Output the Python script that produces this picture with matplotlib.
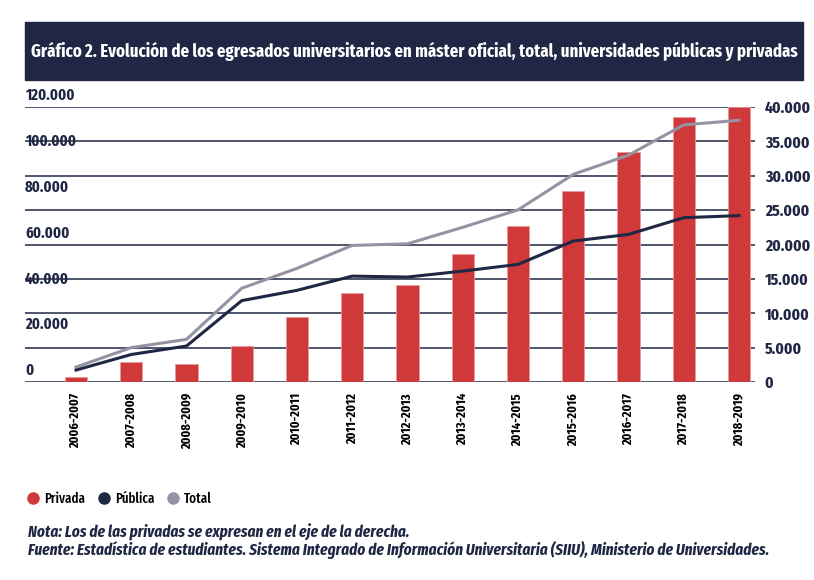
import matplotlib.pyplot as plt
from matplotlib.lines import Line2D
from matplotlib.patches import Rectangle

# Datos
cursos = ['2006-2007', '2007-2008', '2008-2009', '2009-2010', '2010-2011',
          '2011-2012', '2012-2013', '2013-2014', '2014-2015', '2015-2016',
          '2016-2017', '2017-2018', '2018-2019']
privada = [800, 2900, 2600, 5200, 9500, 12900, 14100, 18600, 22700, 27800,
           33500, 38500, 40000]
publica = [5200, 12000, 15700, 35500, 40000, 46200, 45800, 48400, 51300,
           61500, 64400, 71700, 72600]
total = [6500, 15000, 18600, 40900, 49600, 59600, 60300, 67500, 75100,
         90600, 99000, 112200, 114200]

ticks_izq = [0, 20000, 40000, 60000, 80000, 100000, 120000]
ticks_der = [0, 5000, 10000, 15000, 20000, 25000, 30000, 35000, 40000]

ROJO = '#d0393a'
AZUL = '#1f2744'
GRIS = '#9593a3'
FUENTE = ['Fira Sans Extra Condensed', 'DejaVu Sans']

plt.rcParams['font.family'] = FUENTE
plt.rcParams['font.weight'] = 'bold'


def miles(v):
    return f'{v:,}'.replace(',', '.')


fig = plt.figure(figsize=(8.14, 5.8), dpi=100)

# barra del titulo
fig.patches.append(Rectangle((25 / 814, 1 - 80 / 580), 778 / 814, 58 / 580,
                             transform=fig.transFigure, color=AZUL, zorder=0))
fig.text(414 / 814, 1 - 51 / 580,
         'Gráfico 2. Evolución de los egresados universitarios en máster oficial, '
         'total, universidades públicas y privadas',
         color='white', fontsize=13.1, fontweight='bold', ha='center', va='center')

# eje de las lineas (izquierda) y eje de las barras (derecha)
ax = fig.add_axes([25 / 814, 1 - 382 / 580, 730 / 814, 275 / 580])
ax2 = ax.twinx()
ax.set_zorder(ax2.get_zorder() + 1)
ax.patch.set_visible(False)
x = list(range(len(cursos)))

ax2.bar(x, privada, width=0.4, color=ROJO, edgecolor='#e79a9c', linewidth=0.6, zorder=2)
ax2.set_ylim(0, 40000)
ax2.set_yticks(ticks_der)
ax2.set_yticklabels([miles(v) for v in ticks_der])
ax2.tick_params(axis='y', length=0, pad=7, labelsize=12.2, labelcolor=AZUL)
for v in ticks_der:
    ax2.axhline(v, color=AZUL, linewidth=1.1, zorder=1)

ax.plot(x, total, color=GRIS, linewidth=2.2, zorder=3)
ax.plot(x, publica, color=AZUL, linewidth=2.2, zorder=4)
ax.set_ylim(0, 120000)
ax.set_xlim(-0.923, 12.29)
ax.set_yticks([])
ax.set_xticks(x)
ax.set_xticklabels(cursos, rotation=90, fontsize=9.6, color='black')
ax.tick_params(axis='x', length=0, pad=8)
for v in ticks_izq:
    ax.annotate(miles(v), xy=(0, v), xycoords=ax.get_yaxis_transform(),
                xytext=(0, 2.5), textcoords='offset points',
                ha='left', va='bottom', fontsize=11.5, color=AZUL)

for a in (ax, ax2):
    for s in a.spines.values():
        s.set_visible(False)

# leyenda
handles = [Line2D([], [], marker='o', linestyle='none', color=c, markersize=8)
           for c in (ROJO, AZUL, GRIS)]
fig.legend(handles, ['Privada', 'Pública', 'Total'], loc='center left',
           bbox_to_anchor=(27 / 814, 1 - 499 / 580), ncol=3, frameon=False,
           handlelength=0.9, handletextpad=0.3, columnspacing=0.9,
           borderpad=0, borderaxespad=0,
           prop={'family': FUENTE, 'weight': 'medium', 'size': 10.2})

# notas
fig.text(28 / 814, 1 - 532 / 580,
         'Nota: Los de las privadas se expresan en el eje de la derecha.',
         fontsize=11.9, fontstyle='italic', fontweight='bold', color=AZUL, va='center')
fig.text(28 / 814, 1 - 550 / 580,
         'Fuente: Estadística de estudiantes. Sistema Integrado de Información '
         'Universitaria (SIIU), Ministerio de Universidades.',
         fontsize=11.9, fontstyle='italic', fontweight='bold', color=AZUL, va='center')

fig.savefig('out.png', dpi=100)
